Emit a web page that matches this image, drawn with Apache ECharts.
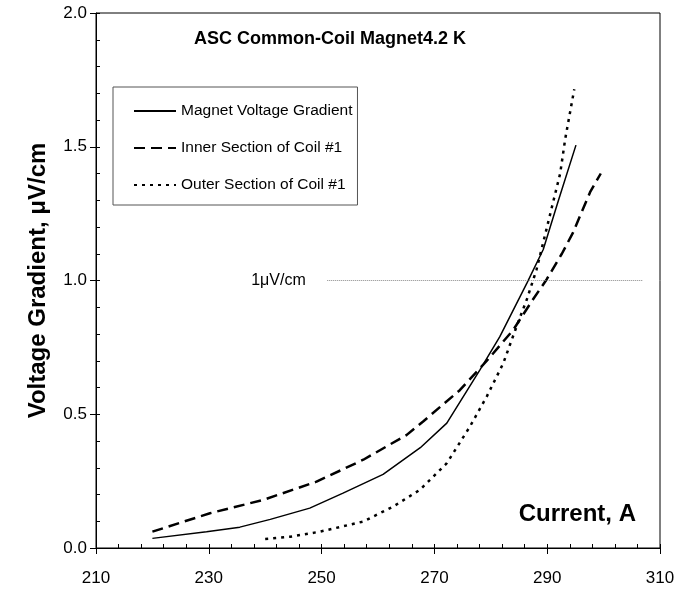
<!DOCTYPE html>
<html><head><meta charset="utf-8">
<script src="https://cdn.jsdelivr.net/npm/echarts@6/dist/echarts.min.js"></script>
<style>html,body{margin:0;padding:0;background:#fff}#c{width:686px;height:593px}</style>
</head><body><div id="c"></div>
<script>
const xTicks = [210, 230, 250, 270, 290, 310];
const yTicks = [0.0, 0.5, 1.0, 1.5, 2.0];
const seriesNames = ['Magnet Voltage Gradient', 'Inner Section of Coil #1', 'Outer Section of Coil #1'];
const solidX = [220, 229.6, 235.5, 240.9, 247.9, 253.8, 260.9, 267.5, 272.2, 278.1, 281.6, 286.4, 289.3, 292, 295.1];
const solidY = [0.036, 0.061, 0.078, 0.107, 0.149, 0.205, 0.275, 0.375, 0.467, 0.667, 0.79, 0.99, 1.116, 1.3, 1.506];
const dashX = [220, 230.2, 239.7, 249.1, 257.4, 265.1, 268, 274.5, 279.3, 284, 287.5, 289.9, 292.6, 294.6, 297.6, 299.5];
const dashY = [0.061, 0.13, 0.18, 0.248, 0.33, 0.423, 0.473, 0.59, 0.70, 0.816, 0.93, 1.004, 1.10, 1.18, 1.33, 1.40];
const dotX = [240, 244.4, 249.7, 257.4, 262.7, 267.4, 272.2, 276.3, 279.3, 282.2, 284.6, 286.4, 288.1, 290.2, 292.3, 293.2, 294.8];
const dotY = [0.034, 0.042, 0.061, 0.099, 0.155, 0.217, 0.317, 0.454, 0.567, 0.69, 0.83, 0.93, 1.04, 1.22, 1.40, 1.53, 1.715];
const refX = [251, 307];
const refY = [1.0, 1.0];
const refLabel = '1\u03bcV/cm';

const pairs = (xs, ys) => xs.map((x, i) => [x, ys[i]]);
const FONT = 'Liberation Sans, Arial, sans-serif';

const chart = echarts.init(document.getElementById('c'), null, {renderer: 'canvas'});
const grid = {left: 96, top: 13, right: 26, bottom: 45, show: true, borderColor: '#000', borderWidth: 1, containLabel: false};
const xMin = xTicks[0], xMax = xTicks[xTicks.length - 1];
const yMin = yTicks[0], yMax = yTicks[yTicks.length - 1];
const hidden = 'rgba(0,0,0,0)';

chart.setOption({
  animation: false,
  backgroundColor: '#fff',
  grid: grid,
  title: {
    text: 'ASC Common-Coil Magnet4.2 K',
    left: 189, top: 25,
    textStyle: {fontFamily: FONT, fontSize: 18, fontWeight: 'bold', color: '#000'}
  },
  legend: {
    orient: 'vertical',
    left: 113, top: 87,
    padding: [14, 5, 10, 20],
    itemGap: 17,
    itemWidth: 42, itemHeight: 2,
    borderColor: '#555', borderWidth: 1,
    itemStyle: {color: hidden, borderColor: hidden, borderWidth: 0, opacity: 0},
    data: seriesNames,
    textStyle: {fontFamily: FONT, fontSize: 15.5, color: '#000', lineHeight: 20}
  },
  xAxis: [{
    type: 'value', min: xMin, max: xMax, interval: 20,
    axisLine: {lineStyle: {color: '#000', width: 1}},
    axisTick: {show: true, inside: false, length: 6, lineStyle: {color: '#000'}},
    axisLabel: {fontFamily: FONT, fontSize: 17, color: '#000', margin: 22},
    splitLine: {show: false}
  }, {
    type: 'value', min: xMin, max: xMax, interval: 4, position: 'bottom',
    axisLine: {show: false},
    axisTick: {show: true, inside: true, length: 4, lineStyle: {color: '#000'}},
    axisLabel: {show: false}, splitLine: {show: false}
  }],
  yAxis: [{
    type: 'value', min: yMin, max: yMax, interval: 0.5,
    name: 'Voltage Gradient, \u03bcV/cm', nameLocation: 'middle', nameGap: 46,
    nameTextStyle: {fontFamily: FONT, fontSize: 24, fontWeight: 'bold', color: '#000'},
    axisLine: {show: true, lineStyle: {color: '#000', width: 1}},
    axisTick: {show: true, inside: false, length: 6, lineStyle: {color: '#000'}},
    axisLabel: {fontFamily: FONT, fontSize: 17, color: '#000', margin: 9, formatter: v => v.toFixed(1)},
    splitLine: {show: false}
  }, {
    type: 'value', min: yMin, max: yMax, interval: 0.1, position: 'left',
    axisLine: {show: false},
    axisTick: {show: true, inside: true, length: 4, lineStyle: {color: '#000'}},
    axisLabel: {show: false}, splitLine: {show: false}
  }],
  graphic: [{
    type: 'text', right: 50, top: 502,
    style: {text: 'Current, A', fontFamily: FONT, fontSize: 24, fontWeight: 'bold', fill: '#000'}
  }],
  series: [{
    name: seriesNames[0], type: 'line', symbol: 'none', data: pairs(solidX, solidY),
    lineStyle: {color: '#000', width: 1.5, type: 'solid'}, itemStyle: {color: '#000'}
  }, {
    name: seriesNames[1], type: 'line', symbol: 'none', data: pairs(dashX, dashY),
    lineStyle: {color: '#000', width: 2.5, type: [11, 6]}, itemStyle: {color: '#000'}
  }, {
    name: seriesNames[2], type: 'line', symbol: 'none', data: pairs(dotX, dotY),
    lineStyle: {color: '#000', width: 2.5, type: [3, 5]}, itemStyle: {color: '#000'}
  }, {
    name: 'ref', type: 'line', symbol: 'none', data: pairs(refX, refY),
    lineStyle: {color: '#888', width: 1, type: [1, 1]},
    markPoint: {
      symbol: 'circle', symbolSize: 1,
      itemStyle: {color: hidden},
      data: [{coord: [refX[0], refY[0]], value: refLabel}],
      label: {show: true, position: 'left', distance: 21, formatter: refLabel, fontFamily: FONT, fontSize: 16, color: '#000'}
    }
  }]
});
</script></body></html>
